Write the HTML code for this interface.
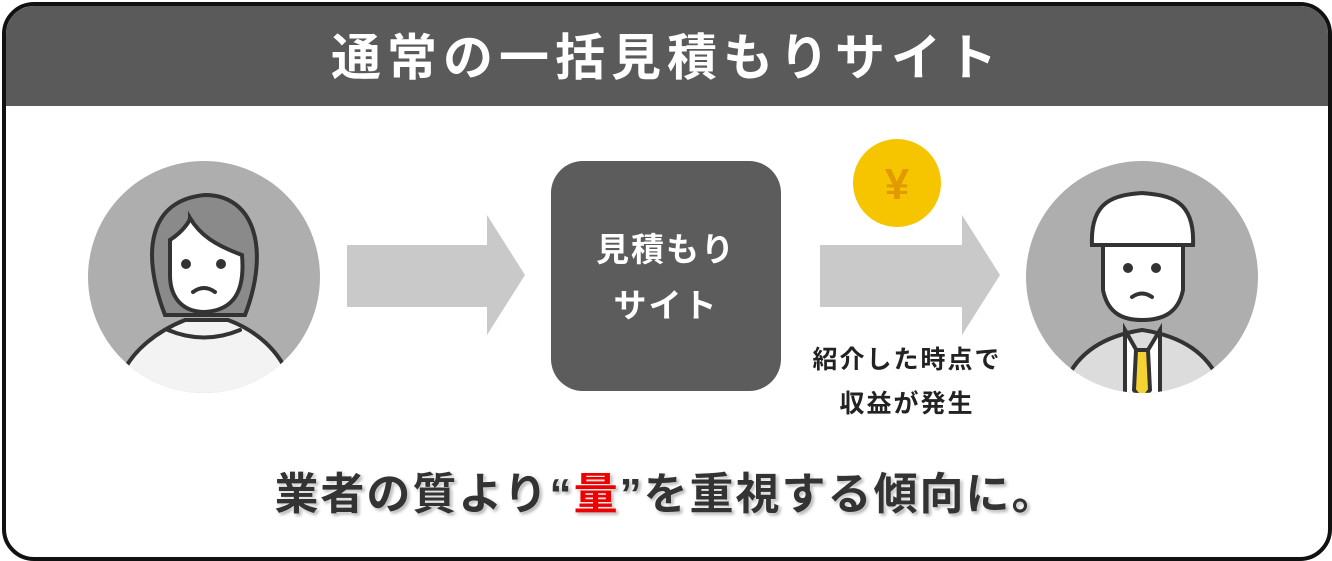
<!DOCTYPE html>
<html><head><meta charset="utf-8"><style>
body{margin:0;width:1332px;height:561px;background:#fff;overflow:hidden;font-family:"Liberation Sans","Noto Sans CJK JP",sans-serif}
.frame{position:absolute;left:2px;top:2px;width:1322px;height:551px;border:4px solid #111;border-radius:32px;overflow:hidden;background:#fff}
.hdr{position:absolute;left:0;top:0;width:100%;height:100px;background:#5a5a5a;color:#fff;font-weight:bold;font-size:50px;text-align:center;line-height:104px;letter-spacing:6px}
.t{position:absolute;font-weight:bold;text-align:center}
</style></head><body>
<div class="frame"><div class="hdr">通常の一括見積もりサイト</div></div>
<svg width="1332" height="561" style="position:absolute;left:0;top:0">
<polygon points="347,245 487,245 487,215 525,275 487,335 487,307 347,307" fill="#c9c9c9"/>
<polygon points="820,245 962,245 962,215 1000,275 962,335 962,307 820,307" fill="#c9c9c9"/>
<rect x="551" y="161" width="230" height="230" rx="32" fill="#5c5c5c"/>
<circle cx="897" cy="183" r="44" fill="#f6c500"/>
<text x="897" y="199" text-anchor="middle" font-size="44" font-weight="bold" fill="#e19a00" font-family="Liberation Sans">¥</text>
<defs><clipPath id="c1"><circle cx="204" cy="277" r="116"/></clipPath><clipPath id="c2"><circle cx="1142" cy="277" r="116"/></clipPath></defs>
<g clip-path="url(#c1)" stroke="#333" stroke-width="4" stroke-linecap="round">
<rect x="80" y="150" width="260" height="260" fill="#aeaeae" stroke="none"/>
<path d="M165,315 C140,250 150,200 205,195 C255,195 270,250 245,315 Z" fill="#8a8a8a"/>
<path d="M120,380 C130,350 160,330 185,320 L228,320 C255,330 280,350 290,380 L290,420 L120,420 Z" fill="#f3f3f3"/>
<path d="M170,240 C185,230 190,220 190,218 C200,235 215,245 242,255 C245,290 235,310 205,312 C180,312 170,295 170,275 Z" fill="#fff"/>
<circle cx="186" cy="264" r="3" fill="#333"/><circle cx="221" cy="264" r="3" fill="#333"/>
<path d="M193,292 Q204,284 215,292" fill="none"/>
<path d="M168,330 Q204,345 240,330" fill="none"/>
</g>
<g clip-path="url(#c2)" stroke="#333" stroke-width="4" stroke-linecap="round">
<rect x="1020" y="150" width="260" height="260" fill="#aeaeae" stroke="none"/>
<path d="M1060,400 C1070,350 1110,335 1142,330 C1175,335 1215,350 1225,400 Z" fill="#dcdcdc"/>
<path d="M1125,330 L1142,360 L1160,330 L1160,400 L1125,400 Z" fill="#fff"/>
<path d="M1136,350 L1148,350 L1150,390 L1142,400 L1134,390 Z" fill="#f4d232"/>
<path d="M1103,240 L1103,290 C1108,315 1125,320 1142,320 C1160,320 1178,315 1183,290 L1183,240 Z" fill="#fff"/>
<path d="M1092,245 C1090,200 1115,195 1142,193 C1170,195 1195,200 1193,245 Z" fill="#fff"/>
<circle cx="1128" cy="268" r="3" fill="#333"/><circle cx="1156" cy="268" r="3" fill="#333"/>
<path d="M1132,297 Q1142,290 1152,297" fill="none"/>
</g>
</svg>
<div class="t" style="left:551px;top:222px;width:230px;color:#fff;font-size:33px;letter-spacing:2px;line-height:56px">見積もり<br>サイト</div>
<div class="t" style="left:797px;top:338px;width:220px;color:#222;font-size:25px;letter-spacing:2px;line-height:44px">紹介した時点で<br>収益が発生</div>
<div class="t" style="left:0;top:466px;width:1332px;color:#333;font-size:44px;letter-spacing:2px;line-height:58px;text-shadow:0 0 4px #fff,2px 2px 3px #999">業者の質より“<span style="color:#e00">量</span>”を重視する傾向に。</div>
</body></html>
